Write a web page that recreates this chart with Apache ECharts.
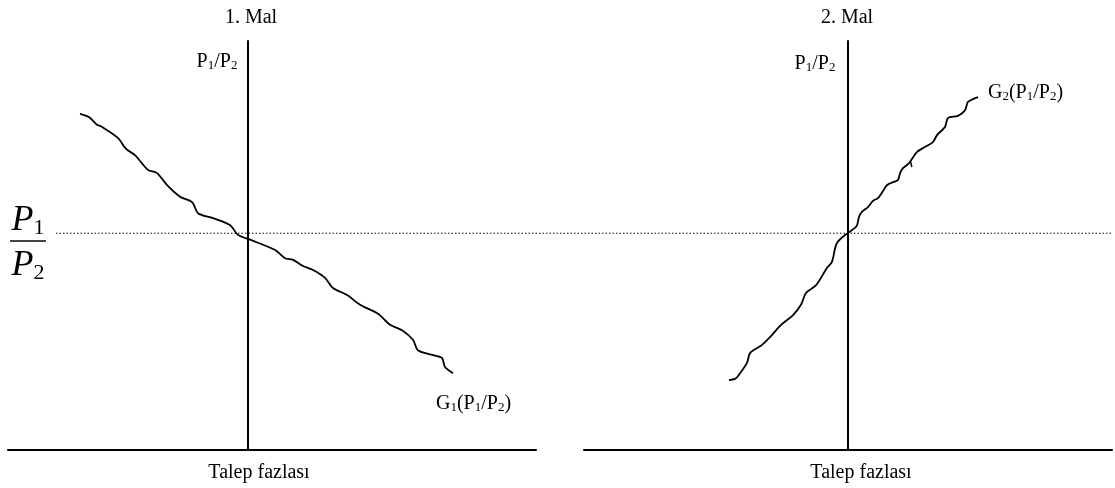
<!DOCTYPE html>
<html>
<head>
<meta charset="utf-8">
<script src="https://cdn.jsdelivr.net/npm/echarts@6/dist/echarts.min.js"></script>
<style>
  html, body { margin: 0; padding: 0; background: #fff; }
  #chart { width: 1115px; height: 488px; }
</style>
</head>
<body>
<div id="chart"></div>
<script>
// excess demand (x) vs relative price P1/P2 (y)
var good1X = [-7.0, -6.63, -6.29, -6.08, -5.42, -5.08, -4.71, -4.17, -3.79, -3.38, -2.83, -2.33, -2.08, -1.46, -0.75, -0.42, 0, 1.13, 1.54, 1.88, 2.29, 2.71, 3.21, 3.54, 4.13, 4.67, 5.42, 5.92, 6.42, 6.88, 7.08, 7.71, 8.08, 8.21, 8.54];
var good1Y = [82.2, 81.4, 79.5, 79.0, 76.3, 73.6, 72.1, 68.5, 67.7, 64.8, 61.9, 60.6, 57.9, 56.7, 55.0, 52.6, 51.6, 48.9, 46.9, 46.5, 45.0, 44.0, 42.1, 39.6, 37.9, 35.5, 33.3, 30.6, 29.3, 26.9, 24.4, 23.2, 22.5, 20.3, 18.8];

var good2X = [-4.96, -4.71, -4.58, -4.21, -4.08, -3.58, -3.25, -2.79, -2.29, -1.96, -1.75, -1.33, -0.88, -0.67, -0.46, 0, 0.29, 0.38, 0.46, 0.58, 0.83, 1.04, 1.25, 1.46, 1.63, 1.88, 2.08, 2.17, 2.29, 2.5, 2.58, 2.71, 2.88, 3.21, 3.54, 3.71, 4.04, 4.17, 4.58, 4.88, 5.0, 5.42];
var good2Y = [17.1, 17.4, 18.1, 21.3, 23.7, 25.7, 27.6, 30.6, 33.0, 35.5, 38.4, 40.3, 44.5, 46.0, 50.6, 53.1, 54.3, 55.0, 57.0, 58.2, 59.4, 60.9, 61.6, 63.3, 64.8, 65.5, 66.0, 67.7, 68.9, 69.9, 70.4, 71.6, 72.9, 74.1, 75.3, 77.0, 79.0, 81.2, 81.7, 83.1, 85.1, 86.3];

// the little stray stroke on the G2 curve
var stubX = [2.6, 2.66];
var stubY = [70.6, 69.2];

// equilibrium price ratio and the extent of the dotted guide (in good-1 x units)
var eqPrice = 53;
var guideX = [-8, 36];

var titles = ['1. Mal', '2. Mal'];
var xName = 'Talep fazlası';

function pairs(xs, ys) {
  return xs.map(function (x, i) { return [x, ys[i]]; });
}

var serif = 'Liberation Serif, Times New Roman, serif';
var richSub = {
  p: { fontSize: 20, fontFamily: serif, color: '#000', verticalAlign: 'bottom', lineHeight: 22 },
  s: { fontSize: 13, fontFamily: serif, color: '#000', verticalAlign: 'bottom', lineHeight: 10 }
};
var richBig = {
  p: { fontSize: 36, fontStyle: 'italic', fontFamily: serif, color: '#000', verticalAlign: 'bottom', lineHeight: 36 },
  s: { fontSize: 22, fontFamily: serif, color: '#000', verticalAlign: 'bottom', lineHeight: 18 }
};

function label(x, y, text, align, rich) {
  return {
    type: 'text', x: x, y: y,
    style: { text: text, rich: rich || richSub, align: align || 'center', verticalAlign: 'middle', fontFamily: serif, fontSize: 20, fill: '#000' }
  };
}

function axisSet(idx, min, max, show) {
  return {
    x: {
      type: 'value', gridIndex: idx, min: min, max: max, show: show,
      axisLine: { show: true, onZero: true, lineStyle: { color: '#000', width: 2 } },
      axisTick: { show: false }, axisLabel: { show: false }, splitLine: { show: false }
    },
    y: {
      type: 'value', gridIndex: idx, min: 0, max: 100, show: show,
      axisLine: { show: true, onZero: true, lineStyle: { color: '#000', width: 2 } },
      axisTick: { show: false }, axisLabel: { show: false }, splitLine: { show: false }
    }
  };
}

var a0 = axisSet(0, -10, 12, true);
var a1 = axisSet(1, -11, 11, true);
var a2 = axisSet(2, -10, 36, false);

var chart = echarts.init(document.getElementById('chart'), null, { renderer: 'canvas' });

var curveStyle = { color: '#000', width: 1.8 };

var option = {
  backgroundColor: '#fff',
  animation: false,
  grid: [
    { left: 8, top: 41, width: 528, height: 409 },
    { left: 584, top: 41, width: 528, height: 409 },
    { left: 8, top: 41, width: 1104, height: 409 }
  ],
  xAxis: [a0.x, a1.x, a2.x],
  yAxis: [a0.y, a1.y, a2.y],
  series: [
    {
      type: 'line', xAxisIndex: 2, yAxisIndex: 2, showSymbol: false, silent: true,
      data: [[guideX[0], eqPrice], [guideX[1], eqPrice]],
      lineStyle: { color: '#000', width: 1, type: [1.5, 2] }
    },
    {
      type: 'line', xAxisIndex: 0, yAxisIndex: 0, showSymbol: false, smooth: 0.3,
      data: pairs(good1X, good1Y), lineStyle: curveStyle
    },
    {
      type: 'line', xAxisIndex: 1, yAxisIndex: 1, showSymbol: false, smooth: 0.3,
      data: pairs(good2X, good2Y), lineStyle: curveStyle
    },
    {
      type: 'line', xAxisIndex: 1, yAxisIndex: 1, showSymbol: false,
      data: pairs(stubX, stubY), lineStyle: { color: '#000', width: 1.5 }
    }
  ],
  graphic: [
    label(251, 18, titles[0]),
    label(847, 18, titles[1]),
    label(217, 61, '{p|P}{s|1}{p|/P}{s|2}'),
    label(815, 63, '{p|P}{s|1}{p|/P}{s|2}'),
    label(436, 403, '{p|G}{s|1}{p|(P}{s|1}{p|/P}{s|2}{p|)}', 'left'),
    label(988, 92, '{p|G}{s|2}{p|(P}{s|1}{p|/P}{s|2}{p|)}', 'left'),
    label(259, 473, xName),
    label(861, 473, xName),
    // big fraction P1 / P2 next to the guide line
    label(28, 221, '{p|P}{s|1}', 'center', richBig),
    {
      type: 'line', shape: { x1: 10, y1: 241, x2: 46, y2: 241 },
      style: { stroke: '#444', lineWidth: 2 }
    },
    label(28, 266, '{p|P}{s|2}', 'center', richBig)
  ]
};

chart.setOption(option);
</script>
</body>
</html>
